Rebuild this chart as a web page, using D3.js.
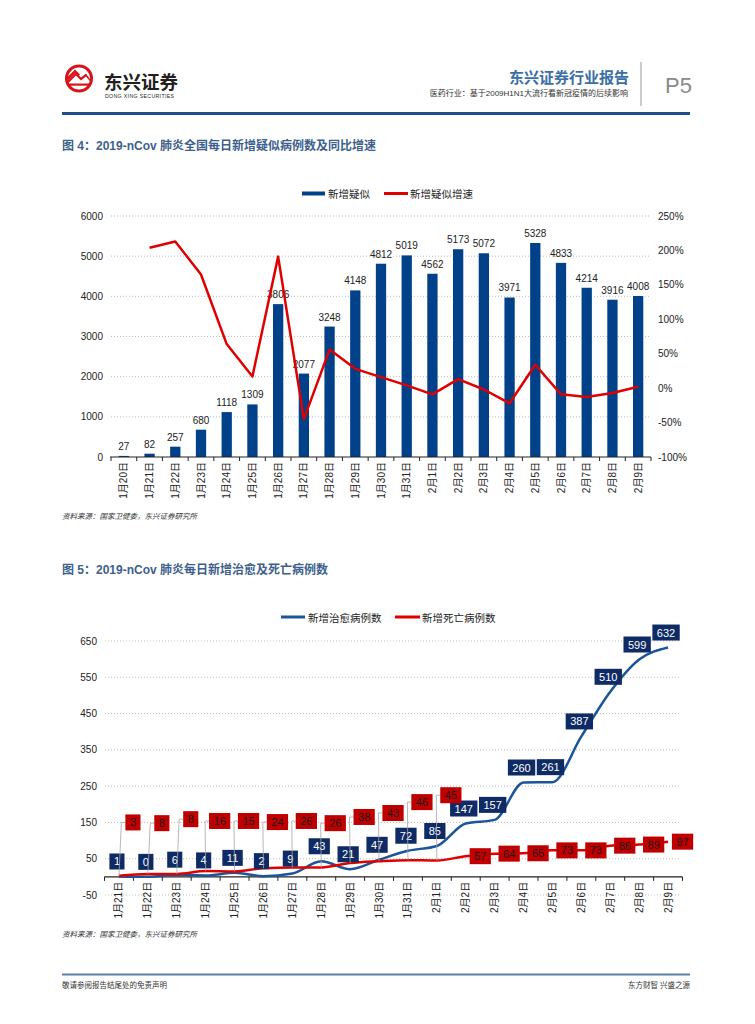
<!DOCTYPE html>
<html>
<head>
<meta charset="utf-8">
<script src="https://cdn.jsdelivr.net/npm/d3@7"></script>
<style>
body { margin: 0; background: #fff; }
text { font-family: "Liberation Sans", "Noto Sans CJK SC", sans-serif; }
</style>
</head>
<body>
<div id="page"></div>
<script>
// chart 1 data
var days1 = ["1月20日","1月21日","1月22日","1月23日","1月24日","1月25日","1月26日","1月27日","1月28日","1月29日","1月30日","1月31日","2月1日","2月2日","2月3日","2月4日","2月5日","2月6日","2月7日","2月8日","2月9日"];
var suspected = [27,82,257,680,1118,1309,3806,2077,3248,4148,4812,5019,4562,5173,5072,3971,5328,4833,4214,3916,4008];
var suspectedGrowth = [null,204,213,165,64,17,191,-45,56,28,16,4,-9,13,-2,-22,34,-9,-13,-7,2];
var leftTicks = [0,1000,2000,3000,4000,5000,6000];
var rightTicks = [-100,-50,0,50,100,150,200,250];

// chart 2 data
var days2 = ["1月21日","1月22日","1月23日","1月24日","1月25日","1月26日","1月27日","1月28日","1月29日","1月30日","1月31日","2月1日","2月2日","2月3日","2月4日","2月5日","2月6日","2月7日","2月8日","2月9日"];
var cured = [1,0,6,4,11,2,9,43,21,47,72,85,147,157,260,261,387,510,599,632];
var deaths = [3,8,8,16,15,24,26,26,38,43,46,45,57,64,65,73,73,86,89,97];
var ticks2 = [-50,50,150,250,350,450,550,650];

var svg = d3.select("#page").append("svg")
    .attr("width", 755)
    .attr("height", 1024);

//header
var logo = svg.append("g").attr("transform", "translate(79,78.5)");
logo.append("circle").attr("r", 12.5).attr("fill", "#fff")
    .attr("stroke", "#d7141a").attr("stroke-width", 3);
logo.append("path")
    .attr("d", "M-12,3 L-3,-6 L2,-1 L7,-5 L12,2 L12,4 L7,-2 L2,2 L-3,-3 L-12,6 Z")
    .attr("fill", "#d7141a");
logo.append("path")
    .attr("d", "M-12,-1 L-4,-9 L1,-4 L-1,-2 L-4,-5 L-12,3 Z")
    .attr("fill", "#d7141a");
logo.append("rect").attr("x", -12).attr("y", 5).attr("width", 24).attr("height", 2.2).attr("fill", "#d7141a");
svg.append("text").attr("x", 104).attr("y", 88.5)
    .style("font-size", "18.5px").style("font-weight", "bold").attr("fill", "#231f20")
    .text("东兴证券");
svg.append("text").attr("x", 105).attr("y", 97.5)
    .style("font-size", "5.2px").attr("fill", "#231f20").attr("textLength", 69)
    .text("DONG XING SECURITIES");

svg.append("text").attr("x", 629).attr("y", 83).attr("text-anchor", "end")
    .style("font-size", "15px").style("font-weight", "bold").attr("fill", "#3a6ea5")
    .text("东兴证券行业报告");
svg.append("text").attr("x", 628).attr("y", 96).attr("text-anchor", "end")
    .style("font-size", "8px").attr("fill", "#333")
    .text("医药行业：基于2009H1N1大流行看新冠疫情的后续影响");
svg.append("line").attr("x1", 641).attr("x2", 641).attr("y1", 62).attr("y2", 106)
    .attr("stroke", "#999").attr("stroke-width", 1);
svg.append("text").attr("x", 665).attr("y", 93)
    .style("font-size", "22px").attr("fill", "#8a8a8a")
    .text("P5");
svg.append("rect").attr("x", 62).attr("y", 112).attr("width", 628).attr("height", 3).attr("fill", "#1f4e8a");

function gridStyle(sel) {
    sel.attr("stroke", "#bdbdbd").attr("stroke-width", 1).attr("stroke-dasharray", "1,2");
}

// ---------- chart 1 ----------
svg.append("text").attr("x", 62).attr("y", 150)
    .style("font-size", "12px").style("font-weight", "bold").attr("fill", "#3d5f8e")
    .text("图 4：2019-nCov 肺炎全国每日新增疑似病例数及同比增速");

var leg1 = svg.append("g").style("font-size", "10.5px");
leg1.append("rect").attr("x", 302).attr("y", 191.5).attr("width", 23).attr("height", 4).attr("fill", "#00418a");
leg1.append("text").attr("x", 328).attr("y", 197.5).attr("fill", "#222").text("新增疑似");
leg1.append("rect").attr("x", 384).attr("y", 192).attr("width", 24).attr("height", 3).attr("fill", "#e00000");
leg1.append("text").attr("x", 410).attr("y", 197.5).attr("fill", "#222").text("新增疑似增速");

var x1 = d3.scaleBand().domain(days1).range([111, 651]).paddingInner(0.6).paddingOuter(0.3);
var y1 = d3.scaleLinear().domain([0, 6000]).range([457, 216]);
var y1r = d3.scaleLinear().domain([-100, 250]).range([457, 216]);

var c1 = svg.append("g");
c1.selectAll(".grid").data(leftTicks.slice(1)).enter().append("line")
    .attr("x1", 111).attr("x2", 651)
    .attr("y1", function(d){ return y1(d); }).attr("y2", function(d){ return y1(d); })
    .call(gridStyle);

// left axis labels
c1.selectAll(".lt").data(leftTicks).enter().append("text")
    .attr("x", 103).attr("y", function(d){ return y1(d) + 3.5; })
    .attr("text-anchor", "end").style("font-size", "10px").attr("fill", "#222")
    .text(function(d){ return d; });
// right axis labels
c1.selectAll(".rt").data(rightTicks).enter().append("text")
    .attr("x", 658).attr("y", function(d){ return y1r(d) + 3.5; })
    .style("font-size", "10px").attr("fill", "#222")
    .text(function(d){ return d + "%"; });

//bars
c1.selectAll(".bar").data(suspected).enter().append("rect")
    .attr("x", function(d, i){ return x1(days1[i]); })
    .attr("y", function(d){ return y1(d); })
    .attr("width", x1.bandwidth())
    .attr("height", function(d){ return y1(0) - y1(d); })
    .attr("fill", "#00418a");
c1.selectAll(".blab").data(suspected).enter().append("text")
    .attr("x", function(d, i){ return x1(days1[i]) + x1.bandwidth() / 2; })
    .attr("y", function(d){ return y1(d) - 6; })
    .attr("text-anchor", "middle").style("font-size", "10px").attr("fill", "#222")
    .text(function(d){ return d; });

// bottom axis
var step1 = x1.step();
var xb1 = d3.scaleLinear().domain([0, days1.length]).range([111, 651]);
c1.append("line").attr("x1", 110).attr("x2", 651).attr("y1", 457).attr("y2", 457)
    .attr("stroke", "#222").attr("stroke-width", 1.2);
c1.selectAll(".tk").data(d3.range(days1.length + 1)).enter().append("line")
    .attr("x1", function(d){ return xb1(d); }).attr("x2", function(d){ return xb1(d); })
    .attr("y1", 457).attr("y2", 461).attr("stroke", "#222");
c1.selectAll(".xl").data(days1).enter().append("text")
    .attr("transform", function(d){ return "translate(" + (xb1(days1.indexOf(d)) + xb1(0.5) - xb1(0) + 3.5) + ",462) rotate(-90)"; })
    .attr("text-anchor", "end").style("font-size", "10px").attr("fill", "#222")
    .text(function(d){ return d; });

// growth line
var line1 = d3.line()
    .defined(function(d){ return d != null; })
    .x(function(d, i){ return x1(days1[i]) + x1.bandwidth() / 2; })
    .y(function(d){ return y1r(d); });
c1.append("path").datum(suspectedGrowth)
    .attr("d", line1).attr("fill", "none")
    .attr("stroke", "#e00000").attr("stroke-width", 2.5).attr("stroke-linejoin", "round");

svg.append("text").attr("x", 62).attr("y", 519)
    .style("font-size", "7.5px").style("font-style", "italic").attr("fill", "#333")
    .text("资料来源：国家卫健委，东兴证券研究所");

// ---------- chart 2 ----------
svg.append("text").attr("x", 62).attr("y", 574)
    .style("font-size", "12px").style("font-weight", "bold").attr("fill", "#3d5f8e")
    .text("图 5：2019-nCov 肺炎每日新增治愈及死亡病例数");

var leg2 = svg.append("g").style("font-size", "10.5px");
leg2.append("rect").attr("x", 281).attr("y", 615.5).attr("width", 24).attr("height", 3).attr("fill", "#1a5499");
leg2.append("text").attr("x", 308).attr("y", 621.5).attr("fill", "#222").text("新增治愈病例数");
leg2.append("rect").attr("x", 395).attr("y", 615.5).attr("width", 25).attr("height", 3).attr("fill", "#e00000");
leg2.append("text").attr("x", 422).attr("y", 621.5).attr("fill", "#222").text("新增死亡病例数");

var x2 = d3.scalePoint().domain(days2).range([119, 668]);
var y2 = d3.scaleLinear().domain([-50, 650]).range([895, 641]);
var xb2 = d3.scaleLinear().domain([0, days2.length]).range([104.5, 682.5]);
x2.range([xb2(0.5), xb2(days2.length - 0.5)]);

var c2 = svg.append("g");
c2.selectAll(".grid").data(ticks2).enter().append("line")
    .attr("x1", 105).attr("x2", 681)
    .attr("y1", function(d){ return y2(d); }).attr("y2", function(d){ return y2(d); })
    .call(gridStyle);
c2.selectAll(".lt").data(ticks2).enter().append("text")
    .attr("x", 97).attr("y", function(d){ return y2(d) + 3.5; })
    .attr("text-anchor", "end").style("font-size", "10px").attr("fill", "#222")
    .text(function(d){ return d; });

c2.append("line").attr("x1", 104.5).attr("x2", 682.5).attr("y1", y2(0)).attr("y2", y2(0))
    .attr("stroke", "#222").attr("stroke-width", 1.2);
c2.selectAll(".tk").data(d3.range(days2.length + 1)).enter().append("line")
    .attr("x1", function(d){ return xb2(d); }).attr("x2", function(d){ return xb2(d); })
    .attr("y1", y2(0)).attr("y2", y2(0) + 4).attr("stroke", "#222");
c2.selectAll(".xl").data(days2).enter().append("text")
    .attr("transform", function(d){ return "translate(" + (x2(d) + 3.5) + "," + (y2(0) + 5) + ") rotate(-90)"; })
    .attr("text-anchor", "end").style("font-size", "10px").attr("fill", "#222")
    .text(function(d){ return d; });

var line2 = d3.line()
    .x(function(d, i){ return x2(days2[i]); })
    .y(function(d){ return y2(d); })
    .curve(d3.curveMonotoneX);
c2.append("path").datum(cured).attr("d", line2).attr("fill", "none")
    .attr("stroke", "#1a5499").attr("stroke-width", 2.5);
c2.append("path").datum(deaths).attr("d", line2).attr("fill", "none")
    .attr("stroke", "#e00000").attr("stroke-width", 2.5);

// callout placement for the first death labels (value level of the label centre)
var deathCalloutAt = [150,148,159,154,154,151,154,148,165,176,206,225];

function boxLabel(g, cx, cy, txt, fill, color) {
    var t = g.append("text").attr("x", cx).attr("y", cy + 4)
        .attr("text-anchor", "middle").style("font-size", "11px").attr("fill", color)
        .text(txt);
    var w = t.node().getComputedTextLength() + 9;
    g.insert("rect", function(){ return t.node(); })
        .attr("x", cx - w / 2).attr("y", cy - 8).attr("width", w).attr("height", 16)
        .attr("fill", fill);
    return w;
}

var lab = svg.append("g");
cured.forEach(function(v, i){
    var px = x2(days2[i]), py = y2(v);
    boxLabel(lab.append("g"), px - 2, py - 15, v, "#0f2b66", "#fff");
});
deaths.forEach(function(v, i){
    var px = x2(days2[i]), py = y2(v);
    var g = lab.append("g");
    if (i < deathCalloutAt.length) {
        var cy = y2(deathCalloutAt[i]);
        var cx = px + 14;
        var w = String(v).length * 6.1 + 9;
        var left = cx - w / 2;
        g.append("polyline")
            .attr("points", [[px, py], [left - 4, cy], [left, cy]].join(" "))
            .attr("fill", "none").attr("stroke", "#a6a6a6").attr("stroke-width", 0.8);
        boxLabel(g, cx, cy, v, "#c00000", "#1a1a1a");
    } else {
        boxLabel(g, px + 14.5, py, v, "#c00000", "#1a1a1a");
    }
});

svg.append("text").attr("x", 62).attr("y", 937)
    .style("font-size", "7.5px").style("font-style", "italic").attr("fill", "#333")
    .text("资料来源：国家卫健委，东兴证券研究所");

// footer
svg.append("rect").attr("x", 62).attr("y", 973.5).attr("width", 628).attr("height", 2).attr("fill", "#5b80a8");
svg.append("text").attr("x", 62).attr("y", 988)
    .style("font-size", "7.5px").attr("fill", "#333")
    .text("敬请参阅报告结尾处的免责声明");
svg.append("text").attr("x", 690).attr("y", 988).attr("text-anchor", "end")
    .style("font-size", "7.5px").attr("fill", "#333")
    .text("东方财智 兴盛之源");
</script>
</body>
</html>
